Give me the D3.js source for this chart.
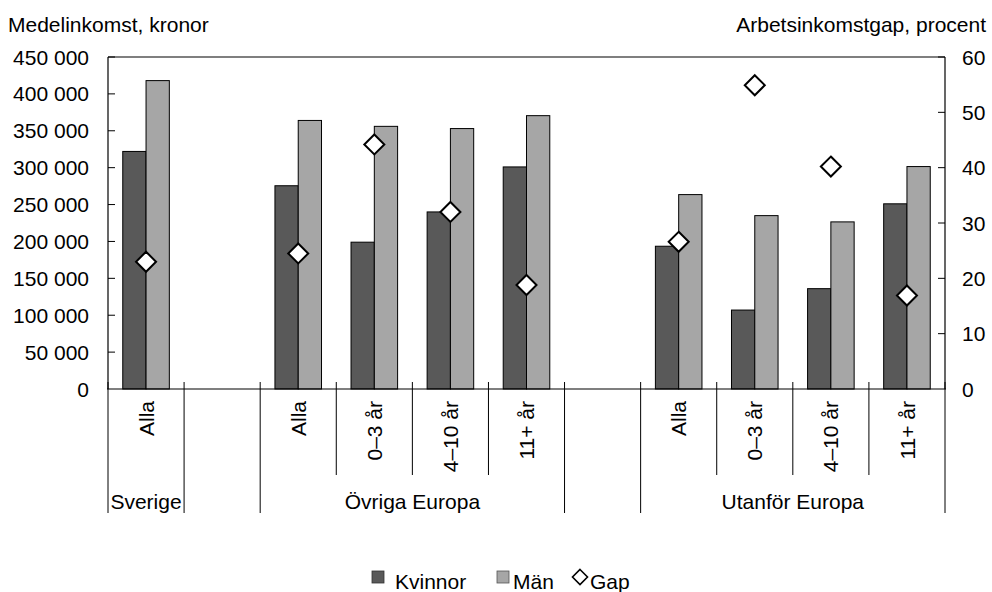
<!DOCTYPE html>
<html>
<head>
<meta charset="utf-8">
<script src="https://cdn.jsdelivr.net/npm/d3@7"></script>
<style>
  html, body { margin: 0; padding: 0; background: #fff; }
  svg { display: block; font-family: Arial, "Liberation Sans", sans-serif; }
</style>
</head>
<body>
<svg id="chart" width="992" height="592"></svg>
<script>
// ---- data ----
const slotLabels = ["Alla", "", "Alla", "0–3 år", "4–10 år", "11+ år", "", "Alla", "0–3 år", "4–10 år", "11+ år"];
const groupLabels = ["Sverige", "Övriga Europa", "Utanför Europa"];
const groupSpans = [[0, 1], [2, 6], [7, 11]];   // slot index ranges [start, end)
const kvinnor = [322000, null, 275500, 199000, 240000, 301000, null, 193500, 107000, 136000, 251000];
const man     = [418000, null, 364000, 356000, 353000, 370500, null, 263500, 235000, 226500, 301500];
const gap     = [23.0, null, 24.5, 44.2, 32.0, 18.8, null, 26.6, 54.9, 40.2, 16.9];
const leftTicks = [0, 50000, 100000, 150000, 200000, 250000, 300000, 350000, 400000, 450000];
const rightTicks = [0, 10, 20, 30, 40, 50, 60];
const seriesNames = ["Kvinnor", "Män", "Gap"];
const colors = { kvinnor: "#595959", man: "#a6a6a6" };

// ---- layout ----
const svg = d3.select("#chart");
const L = 108, R = 945, T = 57, B = 389;
const FS = 21;
const fmt = v => d3.format(",")(v).replace(/,/g, " ");

const x = d3.scaleBand().domain(d3.range(slotLabels.length)).range([L, R]).padding(0);
const yL = d3.scaleLinear().domain([0, 450000]).range([B, T]);
const yR = d3.scaleLinear().domain([0, 60]).range([B, T]);
const barW = x.bandwidth() * 0.306;

// header labels
svg.append("text").attr("x", 8).attr("y", 32).attr("font-size", FS).text("Medelinkomst, kronor");
svg.append("text").attr("x", 986).attr("y", 32).attr("font-size", FS).attr("text-anchor", "end").text("Arbetsinkomstgap, procent");

// bars
const slots = d3.range(slotLabels.length).filter(i => kvinnor[i] != null);
const cx = i => x(i) + x.bandwidth() / 2;
svg.append("g").selectAll("rect").data(slots).join("rect")
  .attr("x", i => cx(i) - barW).attr("width", barW)
  .attr("y", i => yL(kvinnor[i])).attr("height", i => B - yL(kvinnor[i]))
  .attr("fill", colors.kvinnor).attr("stroke", "#000").attr("stroke-width", 1);
svg.append("g").selectAll("rect").data(slots).join("rect")
  .attr("x", i => cx(i)).attr("width", barW)
  .attr("y", i => yL(man[i])).attr("height", i => B - yL(man[i]))
  .attr("fill", colors.man).attr("stroke", "#000").attr("stroke-width", 1);

// frame (top, left, right) and baseline
const g = svg.append("g").attr("stroke", "#000").attr("stroke-width", 1.2).attr("fill", "none");
g.append("line").attr("x1", L).attr("x2", R).attr("y1", T).attr("y2", T);
g.append("line").attr("x1", L).attr("x2", L).attr("y1", T).attr("y2", B);
g.append("line").attr("x1", R).attr("x2", R).attr("y1", T).attr("y2", B);
g.append("line").attr("x1", L - 1).attr("x2", R + 1).attr("y1", B).attr("y2", B);

// left axis ticks (inward) + labels
svg.append("g").selectAll("line").data(leftTicks.slice(1)).join("line")
  .attr("x1", L).attr("x2", L + 7).attr("y1", d => yL(d)).attr("y2", d => yL(d))
  .attr("stroke", "#000");
svg.append("g").selectAll("text").data(leftTicks).join("text")
  .attr("x", 89).attr("y", d => yL(d)).attr("dy", "0.36em")
  .attr("text-anchor", "end").attr("font-size", FS).text(fmt);

// right axis ticks (inward) + labels
svg.append("g").selectAll("line").data(rightTicks.slice(1)).join("line")
  .attr("x1", R - 7).attr("x2", R).attr("y1", d => yR(d)).attr("y2", d => yR(d))
  .attr("stroke", "#000");
svg.append("g").selectAll("text").data(rightTicks).join("text")
  .attr("x", 962).attr("y", d => yR(d)).attr("dy", "0.36em")
  .attr("font-size", FS).text(d => d);

// category separators
const groupBounds = new Set();
groupSpans.forEach(([s, e]) => { groupBounds.add(s); groupBounds.add(e); });
const bounds = d3.range(slotLabels.length + 1);
svg.append("g").selectAll("line").data(bounds).join("line")
  .attr("x1", i => i < slotLabels.length ? x(i) : R)
  .attr("x2", i => i < slotLabels.length ? x(i) : R)
  .attr("y1", B - 7)
  .attr("y2", i => groupBounds.has(i) ? 513 : 475)
  .attr("stroke", "#000").attr("stroke-width", 1);

// first-level category labels (rotated)
svg.append("g").selectAll("text").data(d3.range(slotLabels.length).filter(i => slotLabels[i])).join("text")
  .attr("transform", i => `translate(${cx(i)},401) rotate(-90)`)
  .attr("text-anchor", "end").attr("dy", "0.36em")
  .attr("font-size", FS).text(i => slotLabels[i]);

// second-level labels
svg.append("g").selectAll("text").data(groupSpans).join("text")
  .attr("x", ([s, e]) => (x(s) + (e < slotLabels.length ? x(e) : R)) / 2)
  .attr("y", 509).attr("text-anchor", "middle").attr("font-size", FS)
  .text((d, k) => groupLabels[k]);

// gap diamonds
const diamond = (px, py, h) => `M${px},${py - h}L${px + h},${py}L${px},${py + h}L${px - h},${py}Z`;
svg.append("g").selectAll("path").data(slots).join("path")
  .attr("d", i => diamond(cx(i), yR(gap[i]), 10))
  .attr("fill", "#fff").attr("stroke", "#000").attr("stroke-width", 2);

// legend
const lg = svg.append("g");
lg.append("rect").attr("x", 372).attr("y", 571).attr("width", 12).attr("height", 12)
  .attr("fill", colors.kvinnor).attr("stroke", "#333").attr("stroke-width", 0.8);
lg.append("text").attr("x", 395).attr("y", 589).attr("font-size", FS).text(seriesNames[0]);
lg.append("rect").attr("x", 497).attr("y", 571).attr("width", 12).attr("height", 12)
  .attr("fill", colors.man).attr("stroke", "#555").attr("stroke-width", 0.8);
lg.append("text").attr("x", 513).attr("y", 589).attr("font-size", FS).text(seriesNames[1]);
lg.append("path").attr("d", diamond(580, 577, 7.5))
  .attr("fill", "#fff").attr("stroke", "#000").attr("stroke-width", 1.6);
lg.append("text").attr("x", 590).attr("y", 589).attr("font-size", FS).text(seriesNames[2]);
</script>
</body>
</html>
